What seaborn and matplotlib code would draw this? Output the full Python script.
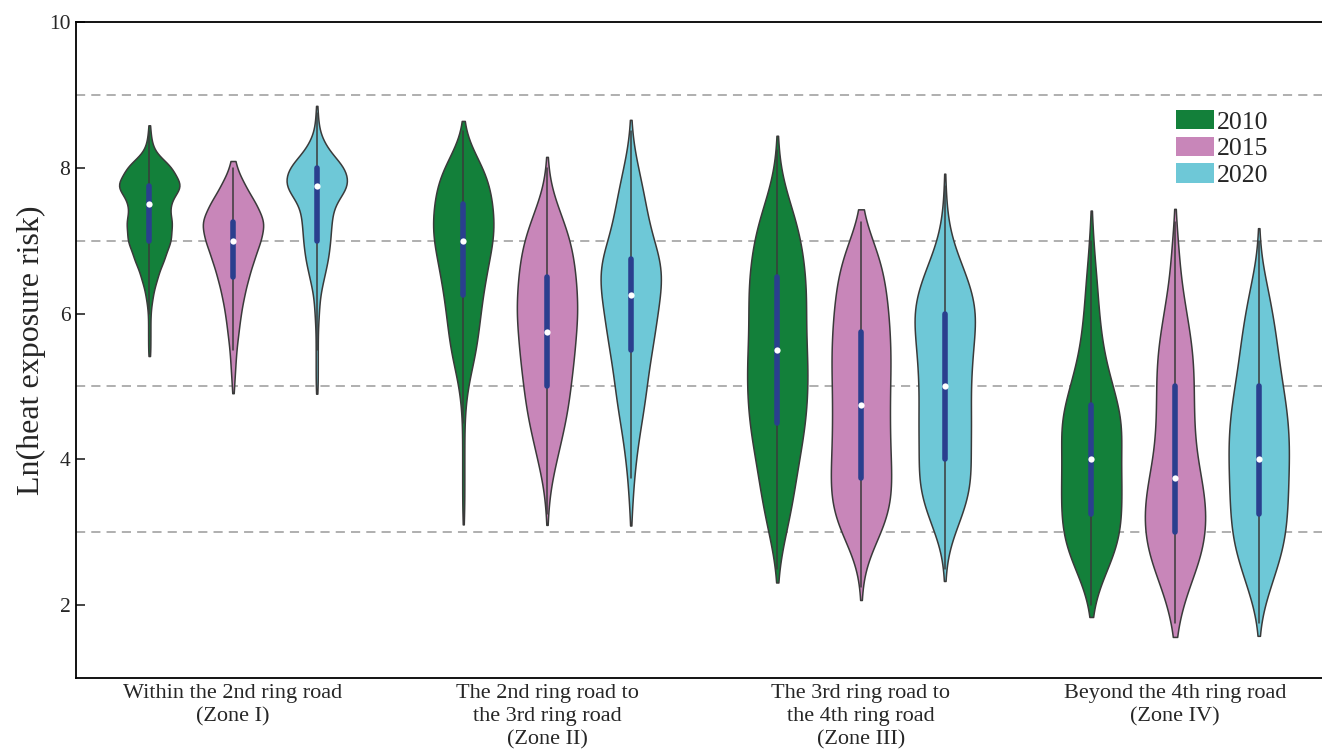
import numpy as np
import pandas as pd
import matplotlib.pyplot as plt
import matplotlib.patches as mpatches
import seaborn as sns

# ---------------------------------------------------------------
# Categories
zones = ["Within the 2nd ring road\n(Zone I)",
         "The 2nd ring road to\nthe 3rd ring road\n(Zone II)",
         "The 3rd ring road to\nthe 4th ring road\n(Zone III)",
         "Beyond the 4th ring road\n(Zone IV)"]
years = ["2010", "2015", "2020"]
colors = ["#13803a", "#c886b9", "#6ec8d7"]

# Ln(heat exposure risk) levels and how many cells sit at each level
levels = [1.5, 1.75, 2.0, 2.25, 2.5, 2.75, 3.0, 3.25, 3.5, 3.75,
          4.0, 4.25, 4.5, 4.75, 5.0, 5.25, 5.5, 5.75, 6.0, 6.25,
          6.5, 6.75, 7.0, 7.25, 7.5, 7.75, 8.0, 8.25, 8.5, 8.75]

z1_2010 = [0,0,0,0,0,0,0,0,0,0,0,0,0,0,0,0,1,1,1,3,7,13,19,20,17,29,20,3,1,0]
z1_2015 = [0,0,0,0,0,0,0,0,0,0,0,0,0,0,1,2,3,5,7,10,14,19,25,29,21,11,3,0,0,0]
z1_2020 = [0,0,0,0,0,0,0,0,0,0,0,0,0,0,1,1,1,1,2,3,7,11,13,14,16,32,28,10,2,1]

z2_2010 = [0,0,0,0,0,0,0,1,1,1,1,1,1,2,4,8,12,14,16,18,21,24,28,29,27,25,19,8,1,0]
z2_2015 = [0,0,0,0,0,0,0,1,2,5,9,13,17,20,22,24,26,27,29,28,27,25,22,16,9,3,1,0,0,0]
z2_2020 = [0,0,0,0,0,0,0,1,2,3,5,7,10,13,15,17,20,23,25,28,30,29,21,17,14,11,7,3,1,0]

z3_2010 = [0,0,0,0,1,4,8,12,15,17,20,23,26,27,28,28,27,26,26,27,26,24,22,18,12,6,2,1,0,0]
z3_2015 = [0,0,0,1,2,10,20,28,30,30,29,28,28,28,28,29,29,28,27,25,23,19,12,3,0,0,0,0,0,0]
z3_2020 = [0,0,0,0,1,2,9,16,22,24,23,23,24,23,23,24,25,27,29,26,20,13,6,3,1,1,0,0,0,0]

z4_2010 = [0,0,2,7,15,23,27,28,28,28,27,28,29,25,20,15,11,9,7,6,5,3,2,1,0,0,0,0,0,0]
z4_2015 = [0,3,7,13,21,27,30,30,29,25,21,19,18,18,18,18,17,14,11,8,5,4,3,1,0,0,0,0,0,0]
z4_2020 = [0,1,5,11,17,23,26,27,28,28,29,29,28,26,23,20,18,16,13,10,6,2,1,0,0,0,0,0,0,0]

counts_2010 = [z1_2010, z2_2010, z3_2010, z4_2010]
counts_2015 = [z1_2015, z2_2015, z3_2015, z4_2015]
counts_2020 = [z1_2020, z2_2020, z3_2020, z4_2020]
#-----------------------------------------------------------------

frames = []
for year, counts in zip(years, [counts_2010, counts_2015, counts_2020]):
    for zone, c in zip(zones, counts):
        vals = np.repeat(levels, c)
        frames.append(pd.DataFrame({"zone": zone, "year": year, "value": vals}))
df = pd.concat(frames, ignore_index=True)

sns.set_style("ticks")
plt.rcParams["font.family"] = ["Liberation Serif", "DejaVu Serif"]

fig = plt.figure(figsize=(13.22, 7.52), dpi=100)
ax = fig.add_axes([76 / 1322, 1 - 678 / 752, 1256 / 1322, 656 / 752])

# dashed reference lines
for yv in [3, 5, 7, 9]:
    ax.axhline(yv, color="#9a9a9a", lw=1.1, ls=(0, (6, 4)), zorder=0)

sns.violinplot(data=df, x="zone", y="value", hue="year", order=zones,
               hue_order=years, palette=colors, saturation=1,
               density_norm="width", cut=0.6, bw_method=0.25, gap=0.28,
               inner="box", inner_kws=dict(box_width=4, whis_width=1.1),
               linewidth=1.1, linecolor="#3a3a3a", legend=False, ax=ax)

# recolour the inner boxes and medians
for ln in ax.lines:
    if ln.get_marker() not in (None, "None", ""):
        ln.set_marker("o")
        ln.set_markersize(4.5)
        ln.set_markerfacecolor("white")
        ln.set_markeredgecolor("white")
        ln.set_markeredgewidth(0)
        ln.set_zorder(6)
    elif ln.get_linewidth() > 3:
        ln.set_color("#2a3f8e")
        ln.set_zorder(5)

ax.set_ylim(1, 10)
ax.set_xlim(-0.5, 3.5)
ax.set_yticks([2, 4, 6, 8, 10])
ax.set_xticks(range(4))
ax.set_xticklabels(zones, fontsize=16, linespacing=1.32)
ax.tick_params(axis="y", direction="in", length=6.5, width=1.2, labelsize=15.5, pad=4)
ax.tick_params(axis="x", length=0, pad=4)
ax.set_xlabel("")
ax.set_ylabel("Ln(heat exposure risk)", fontsize=23, labelpad=2)
for s in ax.spines.values():
    s.set_linewidth(1.3)
    s.set_color("black")

handles = [mpatches.Patch(facecolor=c, edgecolor="none", label=y) for c, y in zip(colors, years)]
fig.legend(handles=handles, loc="upper left", bbox_to_anchor=(1176 / 1322, 1 - 110 / 752),
           frameon=False, fontsize=18.5, handlelength=1.48, handleheight=0.78,
           labelspacing=0.12, handletextpad=0.12, borderpad=0, borderaxespad=0)

plt.savefig("out.png", dpi=100)
